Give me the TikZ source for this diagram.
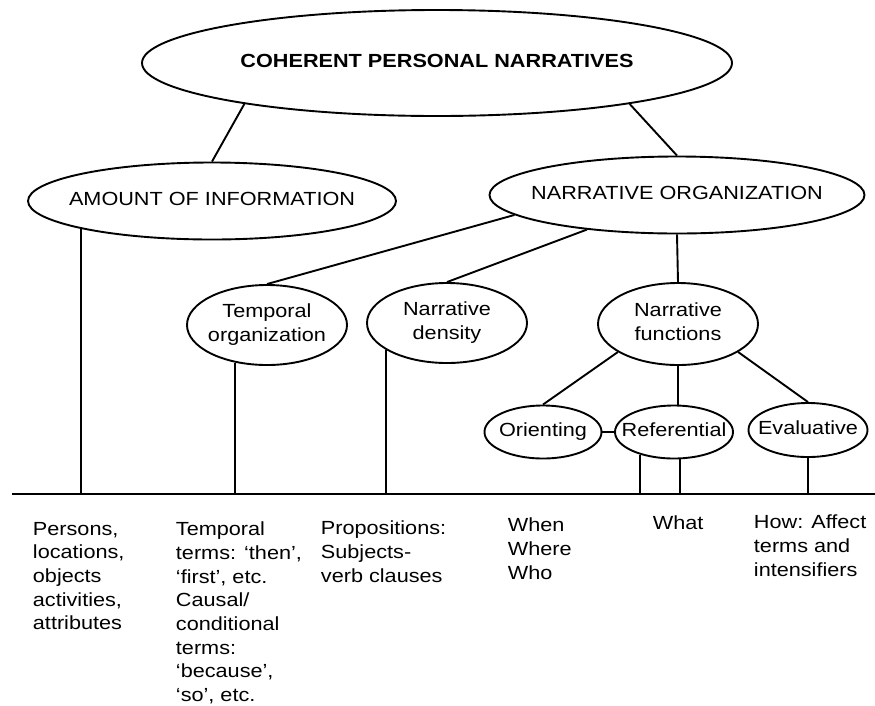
\documentclass[tikz,border=0pt]{standalone}
\usepackage{fontspec}
\setmainfont{Liberation Sans}[FakeStretch=1.14]
\usetikzlibrary{shapes.geometric}

% centred label that does not widen its ellipse
\newcommand{\inbub}[1]{\makebox[0pt]{\begin{tabular}{@{}c@{}}#1\end{tabular}}}

\begin{document}
\begin{tikzpicture}[x=1pt, y=-1pt, line width=1.9pt,
    font=\fontsize{19}{23.7}\selectfont,
    bubble/.style={ellipse, draw, inner sep=0pt},
    leaf/.style={anchor=north west, inner sep=0pt, align=left}]

    \useasboundingbox (0,0) rectangle (875,705);

    % Top level
    \node[bubble, minimum width=590pt, minimum height=106pt] (cpn) at (437,63) {\inbub{\bfseries COHERENT PERSONAL NARRATIVES}};

    % Second level
    \node[bubble, minimum width=368pt, minimum height=77pt] (amount) at (212,201) {\inbub{AMOUNT OF INFORMATION}};
    \node[bubble, minimum width=375pt, minimum height=77pt] (narrorg) at (677,195) {\inbub{NARRATIVE ORGANIZATION}};

    % Third level
    \node[bubble, minimum width=160pt, minimum height=80pt] (temporal) at (267,325) {\inbub{Temporal\\organization}};
    \node[bubble, minimum width=160pt, minimum height=80pt] (density) at (447,323) {\inbub{Narrative\\density}};
    \node[bubble, minimum width=160pt, minimum height=82pt] (functions) at (678,324) {\inbub{Narrative\\functions}};

    % Narrative functions
    \node[bubble, minimum width=117pt, minimum height=53pt] (orienting) at (543,432) {\inbub{Orienting}};
    \node[bubble, minimum width=118pt, minimum height=53pt] (referential) at (674,432) {\inbub{Referential}};
    \node[bubble, minimum width=119pt, minimum height=54pt] (evaluative) at (808,430) {\inbub{Evaluative}};

    % Tree links
    \draw (cpn.192) -- (amount.north);
    \draw (cpn.348) -- (narrorg.north);
    \draw (narrorg.187) -- (temporal.north);
    \draw (narrorg.201) -- (density.north);
    \draw (narrorg.south) -- (functions.north);
    \draw (functions.205) -- (orienting.north);
    \draw (functions.south) -- (functions.south |- referential.north);
    \draw (functions.335) -- (evaluative.north);
    \draw (orienting.east) -- (referential.west);

    % Base line and drops
    \coordinate (baseL) at (12,494);
    \coordinate (baseR) at (875,494);
    \draw[line width=2.6pt] (baseL) -- (baseR);
    \draw (amount.192) -- (amount.192 |- baseL);
    \draw (temporal.230) -- (temporal.230 |- baseL);
    \draw (density.204) -- (density.204 |- baseL);
    \draw (referential.214) -- (referential.214 |- baseL);
    \draw (referential.283) -- (referential.283 |- baseL);
    \draw (evaluative.south) -- (evaluative.south |- baseL);

    % Indicators
    \node[leaf] (persons) at (32,521) {Persons,\\locations,\\objects\\activities,\\attributes};
    \node[leaf] (terms) at (175,521) {Temporal\\terms: `then',\\`first', etc.\\Causal/\\conditional\\terms:\\`because',\\`so', etc.};
    \node[leaf] (props) at (320,520) {Propositions:\\Subjects-\\verb clauses};
    \node[leaf] (wh) at (507,517) {When\\Where\\Who};
    \node[leaf] (what) at (652,515) {What};
    \node[leaf] (how) at (753,514) {How: Affect\\terms and\\intensifiers};

\end{tikzpicture}
\end{document}
